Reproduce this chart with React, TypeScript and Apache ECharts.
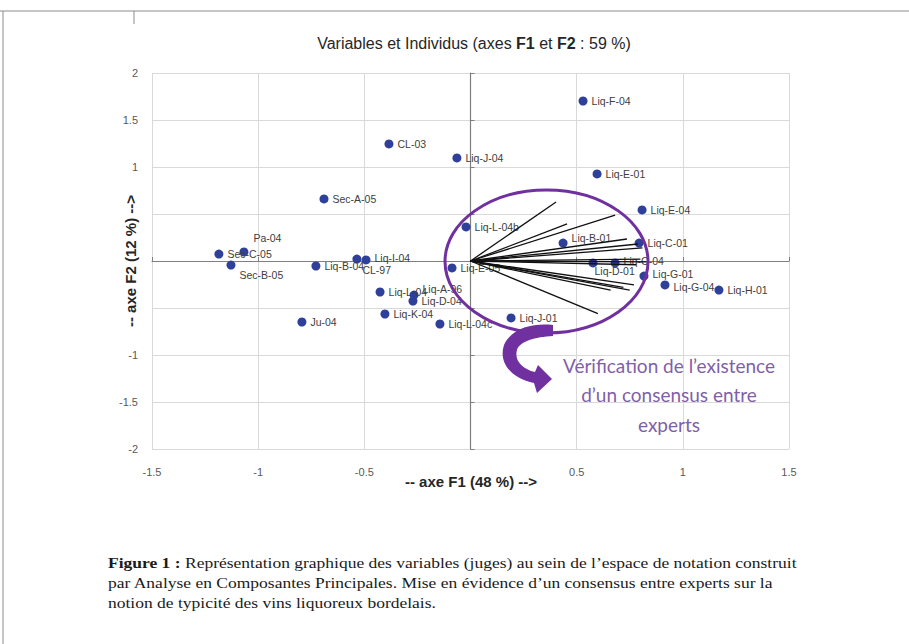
import React, { useEffect, useRef } from "react";
import * as echarts from "echarts";

// ---- Data ----
const individualNames = [
  "Liq-F-04", "CL-03", "Liq-J-04", "Liq-E-01", "Sec-A-05", "Liq-E-04", "Liq-L-04b",
  "Liq-B-01", "Liq-C-01", "Pa-04", "Sec-C-05", "Sec-B-05", "Liq-B-04", "CL-97",
  "Liq-I-04", "Liq-E-05", "Liq-L-04", "Liq-A-96", "Liq-D-04", "Liq-K-04", "Ju-04",
  "Liq-L-04c", "Liq-J-01", "Liq-D-01", "Liq-C-04", "Liq-G-01", "Liq-G-04", "Liq-H-01",
];
const individualF1 = [
  0.53, -0.384, -0.064, 0.596, -0.69, 0.808, -0.021,
  0.436, 0.794, -1.067, -1.185, -1.128, -0.728, -0.535,
  -0.492, -0.087, -0.426, -0.266, -0.271, -0.403, -0.794,
  -0.144, 0.191, 0.577, 0.681, 0.817, 0.916, 1.17,
];
const individualF2 = [
  1.702, 1.245, 1.096, 0.926, 0.66, 0.543, 0.362,
  0.191, 0.191, 0.096, 0.074, -0.043, -0.053, 0.021,
  0.011, -0.074, -0.33, -0.362, -0.426, -0.564, -0.649,
  -0.67, -0.606, -0.021, -0.021, -0.16, -0.255, -0.309,
];

// judges (variables) vectors
const vectorF1 = [0.403, 0.455, 0.681, 0.737, 0.789, 0.81, 0.8, 0.83, 0.78, 0.77, 0.75, 0.72, 0.66, 0.6];
const vectorF2 = [0.628, 0.394, 0.489, 0.234, 0.181, 0.14, 0.02, -0.01, -0.04, -0.255, -0.31, -0.28, -0.31, -0.56];

const xTicks = { min: -1.5, max: 1.5, step: 0.5 };
const yTicks = { min: -2, max: 2, step: 0.5 };
// tick labels hidden behind the axis titles in the reference
const hiddenXTickLabels = [0];
const hiddenYTickLabels = [0.5, 0, -0.5];

// consensus ellipse, in data units
const ellipseCenter = [0.358, -0.005];
const ellipseRadius = [0.478, 0.761];

const titleText = "Variables et Individus (axes {b|F1} et {b|F2} : 59 %)";
const xTitle = "-- axe F1 (48 %) -->";
const yTitle = "-- axe F2 (12 %) -->";
const noteLines = ["Vérification de l\u2019existence", "d\u2019un consensus entre", "experts"];
const captionText =
  "{b|Figure 1 :} Représentation graphique des variables (juges) au sein de l\u2019espace de notation construit\n" +
  "par Analyse en Composantes Principales. Mise en évidence d\u2019un consensus entre experts sur la\n" +
  "notion de typicité des vins liquoreux bordelais.";

// label placement tweaks (offsets from the default right-side label)
const labelOffsets: Record<string, [number, number]> = {
  "Pa-04": [1, -14],
  "Sec-B-05": [0, 10],
  "CL-97": [-3, 11],
  "Liq-I-04": [0, -2],
  "Liq-A-96": [0, -6],
  "Liq-D-01": [-7, 8],
  "Liq-C-04": [0, -2],
  "Liq-B-01": [0, -5],
  "Liq-G-01": [0, -2],
  "Liq-G-04": [0, 2],
};

const ARROW_D =
  "M 53 5 C 35 3 12 7 4 25 C -2 43 12 59 34 63 L 37 73 L 52 59 L 38 45 L 35 52 " +
  "C 22 49 14 40 17 30 C 20 21 35 17 53 16 Z";

let arrowRegistered = false;

const FONT = "'Liberation Sans Narrow', 'Arial Narrow', 'Liberation Sans', Arial, sans-serif";
const SERIF = "'Liberation Serif', serif";

export default function App() {
  const ref = useRef<HTMLDivElement>(null);

  useEffect(() => {
    if (!ref.current) return;
    if (!arrowRegistered) {
      echarts.graphic.registerShape("curvedArrow", echarts.graphic.extendPath(ARROW_D, {}) as any);
      arrowRegistered = true;
    }
    const chart = echarts.init(ref.current, null, { renderer: "svg" });

    const scatterData = individualNames.map((name, i) => {
      const item: any = { name, value: [individualF1[i], individualF2[i]] };
      if (labelOffsets[name]) item.label = { offset: labelOffsets[name] };
      return item;
    });
    const vectorData = vectorF1.map((x, i) => ({ coords: [[0, 0], [x, vectorF2[i]]] }));

    const gridLine = { show: true, lineStyle: { color: "#d9d9d9", width: 1 } };

    const option: any = {
      animation: false,
      backgroundColor: "#ffffff",
      grid: { left: 152, right: 120, top: 73, bottom: 195, containLabel: false },
      xAxis: [
        {
          type: "value",
          min: xTicks.min,
          max: xTicks.max,
          interval: xTicks.step,
          position: "bottom",
          axisLine: { show: false, onZero: false },
          axisTick: { show: false },
          axisLabel: {
            color: "#595959",
            fontSize: 11,
            fontFamily: FONT,
            margin: 17,
            formatter: (v: number) => (hiddenXTickLabels.includes(v) ? "" : String(v)),
          },
          splitLine: gridLine,
        },
        {
          type: "value",
          min: xTicks.min,
          max: xTicks.max,
          interval: xTicks.step,
          axisLine: { show: true, onZero: true, onZeroAxisIndex: 0, lineStyle: { color: "#7f7f7f", width: 1.2 } },
          axisTick: { show: true, length: 4, lineStyle: { color: "#7f7f7f" } },
          axisLabel: { show: false },
          splitLine: { show: false },
        },
      ],
      yAxis: [
        {
          type: "value",
          min: yTicks.min,
          max: yTicks.max,
          interval: yTicks.step,
          position: "left",
          axisLine: { show: false, onZero: false },
          axisTick: { show: false },
          axisLabel: {
            color: "#595959",
            fontSize: 11,
            fontFamily: FONT,
            margin: 14,
            formatter: (v: number) => (hiddenYTickLabels.includes(v) ? "" : String(v)),
          },
          splitLine: gridLine,
        },
        {
          type: "value",
          min: yTicks.min,
          max: yTicks.max,
          interval: yTicks.step,
          axisLine: { show: true, onZero: true, onZeroAxisIndex: 0, lineStyle: { color: "#7f7f7f", width: 1.2 } },
          axisTick: { show: true, length: 4, lineStyle: { color: "#7f7f7f" } },
          axisLabel: { show: false },
          splitLine: { show: false },
        },
      ],
      series: [
        {
          type: "scatter",
          xAxisIndex: 0,
          yAxisIndex: 0,
          symbolSize: 9,
          itemStyle: { color: "#2f409a", opacity: 1 },
          z: 3,
          label: {
            show: true,
            position: "right",
            distance: 4,
            formatter: "{b}",
            color: "#404040",
            fontSize: 10.5,
            fontFamily: FONT,
          },
          data: scatterData,
        },
        {
          type: "lines",
          coordinateSystem: "cartesian2d",
          xAxisIndex: 0,
          yAxisIndex: 0,
          z: 4,
          silent: true,
          lineStyle: { color: "#111111", width: 1.3, opacity: 1 },
          data: vectorData,
        },
      ],
    };
    chart.setOption(option);

    const c = chart.convertToPixel({ xAxisIndex: 0, yAxisIndex: 0 }, ellipseCenter) as number[];
    const e = chart.convertToPixel({ xAxisIndex: 0, yAxisIndex: 0 }, [
      ellipseCenter[0] + ellipseRadius[0],
      ellipseCenter[1] + ellipseRadius[1],
    ]) as number[];
    const rx = Math.abs(e[0] - c[0]);
    const ry = Math.abs(c[1] - e[1]);

    const noteFont = "19px Lato, 'Open Sans', sans-serif";

    chart.setOption({
      graphic: [
        { type: "line", shape: { x1: 0, y1: 11, x2: 909, y2: 11 }, style: { stroke: "#8c8c8c", lineWidth: 1 } },
        { type: "line", shape: { x1: 3, y1: 11, x2: 3, y2: 644 }, style: { stroke: "#8c8c8c", lineWidth: 1 } },
        { type: "line", shape: { x1: 134, y1: 11, x2: 134, y2: 24 }, style: { stroke: "#8c8c8c", lineWidth: 1 } },
        {
          type: "text",
          x: 474,
          y: 43,
          style: {
            text: titleText,
            align: "center",
            verticalAlign: "middle",
            fill: "#262626",
            font: `16px ${FONT}`,
            rich: { b: { fontWeight: "bold", fontSize: 16, fontFamily: FONT, fill: "#262626" } },
          },
        },
        {
          type: "text",
          x: 471,
          y: 481,
          style: {
            text: xTitle,
            align: "center",
            verticalAlign: "middle",
            fill: "#262626",
            backgroundColor: "#ffffff",
            font: `bold 15px ${FONT}`,
          },
        },
        {
          type: "text",
          x: 130,
          y: 261,
          rotation: Math.PI / 2,
          style: {
            text: yTitle,
            align: "center",
            verticalAlign: "middle",
            fill: "#262626",
            backgroundColor: "#ffffff",
            font: `bold 15px ${FONT}`,
          },
        },
        {
          type: "ellipse",
          z: 10,
          shape: { cx: c[0], cy: c[1], rx, ry },
          style: { fill: "none", stroke: "#7030a0", lineWidth: 3 },
        },
        {
          type: "curvedArrow",
          z: 11,
          x: 500,
          y: 320,
          style: { fill: "#7030a0" },
        },
        ...noteLines.map((t, i) => ({
          type: "text",
          x: 669,
          y: 365 + i * 29.5,
          style: { text: t, align: "center", verticalAlign: "middle", fill: "#7f5fa8", font: noteFont },
        })),
        {
          type: "text",
          x: 108,
          y: 553,
          scaleX: 1.13,
          style: {
            text: captionText,
            align: "left",
            verticalAlign: "top",
            fill: "#1a1a1a",
            font: `15.5px ${SERIF}`,
            lineHeight: 20,
            rich: { b: { fontWeight: "bold", fontSize: 15.5, fontFamily: SERIF, fill: "#1a1a1a", lineHeight: 20 } },
          },
        },
      ],
    });

    return () => chart.dispose();
  }, []);

  return (
    <div
      ref={ref}
      style={{ position: "absolute", left: 0, top: 0, width: 909, height: 644, background: "#ffffff" }}
    />
  );
}
